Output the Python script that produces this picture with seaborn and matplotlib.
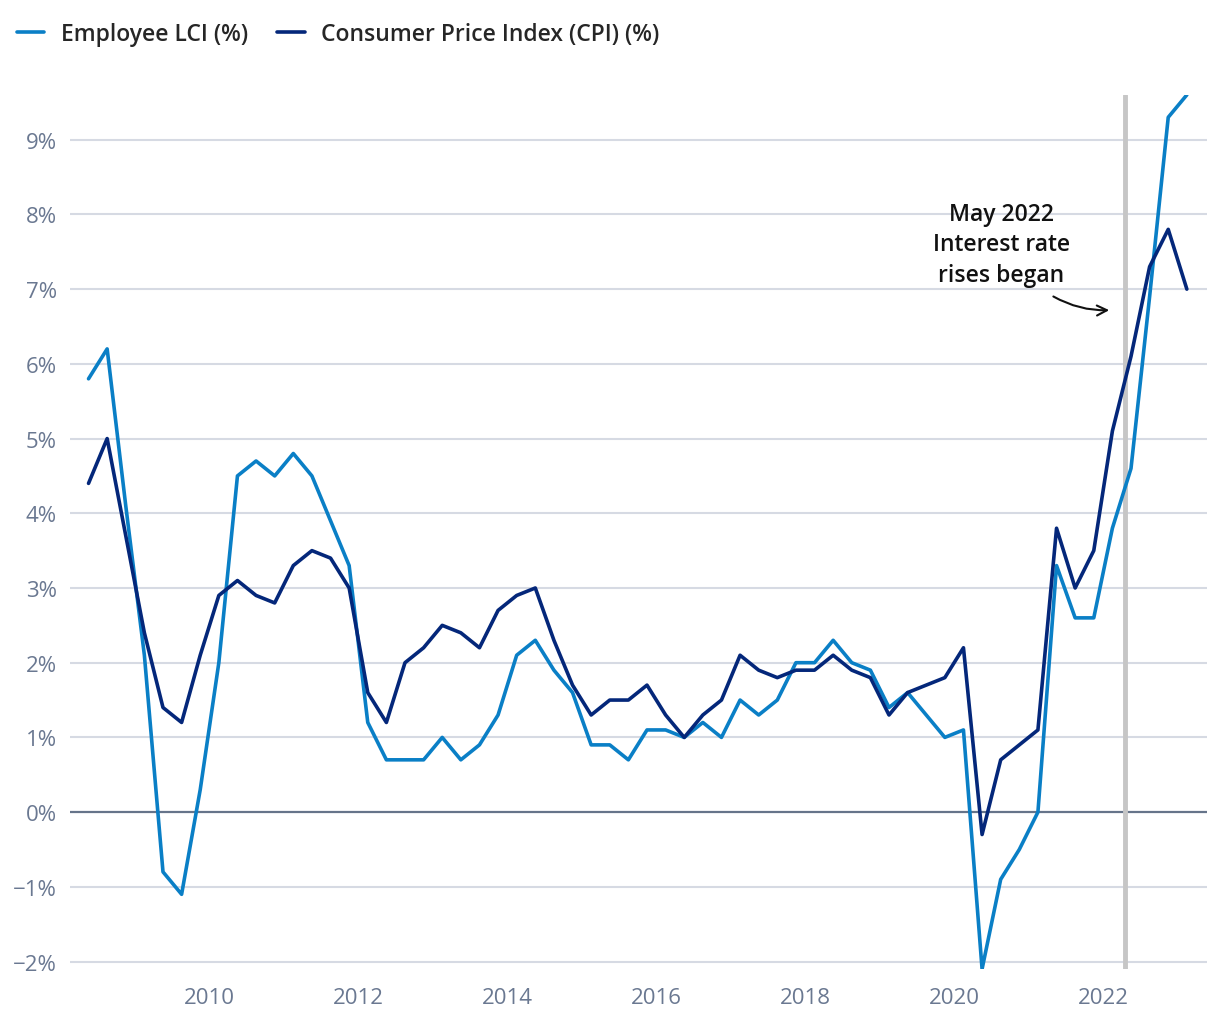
import pandas as pd
import seaborn as sns
import matplotlib.pyplot as plt
from matplotlib.ticker import FuncFormatter

# Quarterly series, Q2 2008 to Q1 2023 (annual % change)
quarters = pd.period_range("2008Q2", "2023Q1", freq="Q")

lci = [5.8, 6.2, 4.1, 2.1, -0.8, -1.1, 0.3, 2.0,
       4.5, 4.7, 4.5, 4.8, 4.5, 3.9, 3.3, 1.2,
       0.7, 0.7, 0.7, 1.0, 0.7, 0.9, 1.3, 2.1,
       2.3, 1.9, 1.6, 0.9, 0.9, 0.7, 1.1, 1.1,
       1.0, 1.2, 1.0, 1.5, 1.3, 1.5, 2.0, 2.0,
       2.3, 2.0, 1.9, 1.4, 1.6, 1.3, 1.0, 1.1,
       -2.1, -0.9, -0.5, 0.0, 3.3, 2.6, 2.6, 3.8,
       4.6, 6.9, 9.3, 9.6]

cpi = [4.4, 5.0, 3.7, 2.4, 1.4, 1.2, 2.1, 2.9,
       3.1, 2.9, 2.8, 3.3, 3.5, 3.4, 3.0, 1.6,
       1.2, 2.0, 2.2, 2.5, 2.4, 2.2, 2.7, 2.9,
       3.0, 2.3, 1.7, 1.3, 1.5, 1.5, 1.7, 1.3,
       1.0, 1.3, 1.5, 2.1, 1.9, 1.8, 1.9, 1.9,
       2.1, 1.9, 1.8, 1.3, 1.6, 1.7, 1.8, 2.2,
       -0.3, 0.7, 0.9, 1.1, 3.8, 3.0, 3.5, 5.1,
       6.1, 7.3, 7.8, 7.0]

series_names = ["Employee LCI (%)", "Consumer Price Index (CPI) (%)"]
colors = {"Employee LCI (%)": "#0a7fc6", "Consumer Price Index (CPI) (%)": "#04277a"}

year_ticks = [2010, 2012, 2014, 2016, 2018, 2020, 2022]
y_ticks = [-2, -1, 0, 1, 2, 3, 4, 5, 6, 7, 8, 9]
rate_rise_date = 2022.3  # May 2022

# mid-quarter decimal years
x_years = quarters.year + (quarters.quarter - 0.5) / 4

df = pd.DataFrame({
    "year": list(x_years) * 2,
    "value": lci + cpi,
    "series": [series_names[0]] * len(lci) + [series_names[1]] * len(cpi),
})

sns.set_style("white")
plt.rcParams["font.family"] = ["Open Sans", "DejaVu Sans"]

fig = plt.figure(figsize=(12.2, 10.2), dpi=100)
ax = fig.add_axes([0.057, 0.049, 0.932, 0.857])

for v in y_ticks:
    if v != 0:
        ax.axhline(v, color="#d6dae3", lw=1.5, zorder=0)
ax.axhline(0, color="#66748a", lw=1.6, zorder=1)
ax.axvline(rate_rise_date, color="#c6c6c6", lw=3.5, zorder=1)

sns.lineplot(data=df, x="year", y="value", hue="series", hue_order=series_names,
             palette=colors, linewidth=2.6, ax=ax, zorder=3)

ax.set_xlim(2008.12, 2023.39)
ax.set_ylim(-2.1, 9.6)
ax.set_xticks(year_ticks)
ax.set_yticks(y_ticks)
ax.yaxis.set_major_formatter(FuncFormatter(lambda v, p: f"{v:.0f}%".replace("-", "\u2212")))
ax.tick_params(axis="both", length=0, labelsize=16, labelcolor="#6a7891")
ax.tick_params(axis="x", pad=13)
ax.tick_params(axis="y", pad=9)
ax.set_xlabel("")
ax.set_ylabel("")
sns.despine(ax=ax, left=True, bottom=True)

# annotation
ax.text(2020.63, 7.6, "May 2022\nInterest rate\nrises began", ha="center", va="center",
        fontsize=16.5, fontweight="semibold", color="#111111", linespacing=1.35)
ax.annotate("", xy=(2022.12, 6.72), xytext=(2021.3, 6.92),
            arrowprops=dict(arrowstyle="->", color="#111111", lw=1.5,
                            connectionstyle="arc3,rad=0.15", mutation_scale=18))

# legend at top
ax.get_legend().remove()
handles, labels = ax.get_legend_handles_labels()
fig.legend(handles, labels, loc="upper left", bbox_to_anchor=(-0.003, 0.998), ncol=2,
           frameon=False, handlelength=1.2, handletextpad=0.7, columnspacing=1.3,
           prop={"size": 16.5, "weight": "semibold"})

plt.savefig("out.png", dpi=100)
